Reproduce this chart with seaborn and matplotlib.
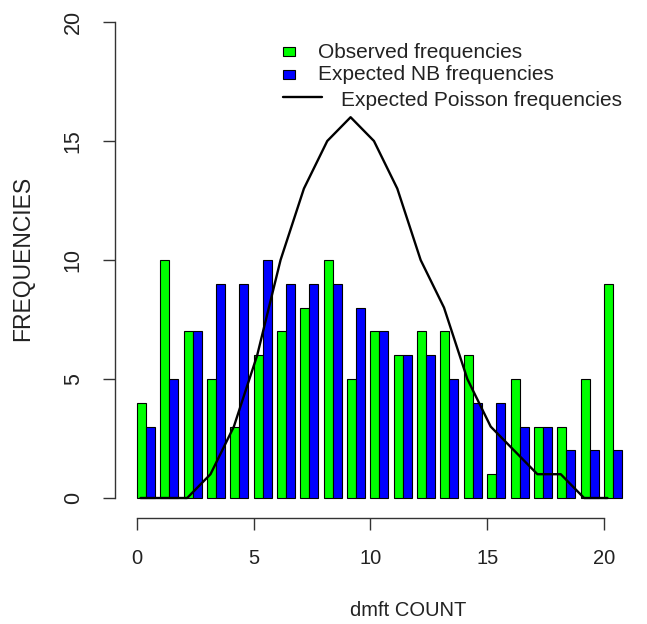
import matplotlib
matplotlib.use("Agg")
import matplotlib.pyplot as plt
import numpy as np
import pandas as pd
import seaborn as sns
from matplotlib.patches import Rectangle
from matplotlib.lines import Line2D

counts = list(range(21))
observed = [4, 10, 7, 5, 3, 6, 7, 8, 10, 5, 7, 6, 7, 7, 6, 1, 5, 3, 3, 5, 9]
expected_nb = [3, 5, 7, 9, 9, 10, 9, 9, 9, 8, 7, 6, 6, 5, 4, 4, 3, 3, 2, 2, 2]
expected_poisson = [0, 0, 0, 1, 3, 6, 10, 13, 15, 16, 15, 13, 10, 8, 5, 3, 2, 1, 1, 0, 0]

legend_labels = ["Observed frequencies", "Expected NB frequencies", "Expected Poisson frequencies"]

sns.set_style("white")
plt.rcParams['font.family'] = ['Liberation Sans', 'DejaVu Sans']
txt = '#222222'

df = pd.DataFrame({
    'count': counts * 2,
    'freq': observed + expected_nb,
    'type': ['obs'] * 21 + ['nb'] * 21,
})
# R barplot puts the pair to the right of the tick
df['pos'] = df['count'] + 0.385

W, H = 647, 624
fig = plt.figure(figsize=(W / 100, H / 100), dpi=100)
ax = fig.add_axes([115 / W, (H - 518) / H, 525 / W, 513 / H])

sns.barplot(data=df, x='pos', y='freq', hue='type', native_scale=True,
            width=0.77, palette={'obs': '#00FF00', 'nb': '#0000FF'},
            edgecolor='black', linewidth=0.8, errorbar=None, legend=False,
            saturation=1, ax=ax)
sns.lineplot(x=np.array(counts) + 0.15, y=expected_poisson, color='black',
             linewidth=1.7, ax=ax)

ax.set_xlim(-0.94, -0.94 + 525 / 23.35)
ax.set_ylim(-0.84, -0.84 + 513 / 23.8)

for s in ['top', 'right']:
    ax.spines[s].set_visible(False)
ax.spines['left'].set_bounds(0, 20)
ax.spines['bottom'].set_bounds(0, 20)
for s in ['left', 'bottom']:
    ax.spines[s].set_color('#333333')
    ax.spines[s].set_linewidth(1.0)

ax.set_xticks([0, 5, 10, 15, 20])
ax.set_yticks([0, 5, 10, 15, 20])
ax.tick_params(axis='both', direction='out', length=8.5, width=1.0,
               color='#333333', labelcolor=txt, bottom=True, left=True)
ax.tick_params(axis='x', labelsize=14.5, pad=14)
ax.tick_params(axis='y', labelsize=15.5, pad=14)
for lab in ax.get_yticklabels():
    lab.set_rotation(90)
    lab.set_va('center')

ax.set_xlabel('dmft COUNT', fontsize=14.5, color=txt)
ax.xaxis.set_label_coords((408 - 115) / 525, (518 - 601) / 513)
ax.set_ylabel('FREQUENCIES', fontsize=16.5, color=txt, va='center')
ax.yaxis.set_label_coords((23 - 115) / 525, (518 - 258) / 513)

# legend drawn by hand, R style (no frame)
def fx(px):
    return px / W

def fy(py):
    return 1 - py / H

fig.add_artist(Rectangle((fx(283), fy(56)), 12 / W, 9 / H, facecolor='#00FF00',
                         edgecolor='black', linewidth=0.8, transform=fig.transFigure))
fig.add_artist(Rectangle((fx(283), fy(79)), 12 / W, 9 / H, facecolor='#0000FF',
                         edgecolor='black', linewidth=0.8, transform=fig.transFigure))
fig.add_artist(Line2D([fx(283), fx(322)], [fy(97), fy(97)], color='black',
                      linewidth=1.7, transform=fig.transFigure))
fig.text(fx(318), fy(52), legend_labels[0], fontsize=15, color=txt, va='center')
fig.text(fx(318), fy(75), legend_labels[1], fontsize=15, color=txt, va='center')
fig.text(fx(341), fy(100), legend_labels[2], fontsize=15, color=txt, va='center')

fig.savefig('out.png', dpi=100)
